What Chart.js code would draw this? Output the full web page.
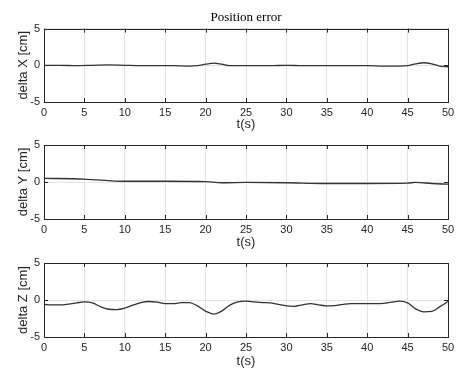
<!DOCTYPE html>
<html>
<head>
<meta charset="utf-8">
<script src="https://cdn.jsdelivr.net/npm/chart.js@4.4.1/dist/chart.umd.min.js"></script>
<style>
  html, body { margin: 0; padding: 0; background: #fff; }
  #wrap { position: relative; width: 459px; height: 369px; }
  .panel { position: absolute; left: 0; width: 459px; }
</style>
</head>
<body>
<div id="wrap">
  <div class="panel" style="top:0;height:132px"><canvas id="chartX"></canvas></div>
  <div class="panel" style="top:130px;height:120px"><canvas id="chartY"></canvas></div>
  <div class="panel" style="top:250px;height:119px"><canvas id="chartZ"></canvas></div>
</div>
<script>
const timeX = [0, 2, 4, 6, 8, 10, 12, 14, 16, 18, 19, 20, 21, 22, 23, 24, 26, 28, 30, 32, 34, 36, 38, 40, 42, 44, 45, 46, 47, 48, 49, 50];
const deltaX = [0, 0, -0.05, 0, 0.05, 0, -0.05, -0.05, -0.05, -0.1, -0.05, 0.15, 0.3, 0.15, -0.05, -0.05, -0.05, -0.05, 0, -0.05, -0.05, -0.05, -0.05, -0.05, -0.1, -0.1, -0.05, 0.2, 0.35, 0.2, -0.1, -0.2];

const timeY = [0, 5, 10, 15, 20, 22, 25, 30, 35, 40, 45, 46, 48, 50];
const deltaY = [0.5, 0.4, 0.1, 0.1, 0.05, -0.1, -0.05, -0.1, -0.2, -0.2, -0.15, -0.05, -0.2, -0.3];

const timeZ = [0, 1, 2, 3, 4, 5, 6, 7, 8, 9, 10, 11, 12, 13, 14, 15, 16, 17, 18, 19, 20, 21, 22, 23, 24, 25,
  26, 27, 28, 29, 30, 31, 32, 33, 34, 35, 36, 37, 38, 39, 40, 41, 42, 43, 44, 45, 46, 47, 48, 49, 50];
const deltaZ = [-0.6, -0.65, -0.65, -0.55, -0.4, -0.25, -0.4, -0.9, -1.25, -1.3, -1.1, -0.7, -0.35, -0.2, -0.3, -0.5,
  -0.5, -0.35, -0.35, -0.8, -1.5, -1.9, -1.5, -0.7, -0.25, -0.15, -0.25, -0.35, -0.4, -0.6, -0.8, -0.85, -0.65,
  -0.5, -0.65, -0.8, -0.75, -0.6, -0.5, -0.5, -0.5, -0.5, -0.45, -0.3, -0.15, -0.4, -1.2, -1.6, -1.55, -0.9, -0.2];

const yTicks = [-5, 0, 5];

// frame around the plot plus short inward tick marks, matlab style
const boxTicks = {
  id: 'boxTicks',
  afterDraw(chart) {
    const { ctx, chartArea: a, scales } = chart;
    ctx.save();
    ctx.strokeStyle = '#262626';
    ctx.lineWidth = 1;
    ctx.beginPath();
    scales.x.ticks.forEach(t => {
      const px = Math.round(scales.x.getPixelForValue(t.value)) + 0.5;
      ctx.moveTo(px, a.top); ctx.lineTo(px, a.top + 4);
      ctx.moveTo(px, a.bottom); ctx.lineTo(px, a.bottom - 4);
    });
    scales.y.ticks.forEach(t => {
      const py = Math.round(scales.y.getPixelForValue(t.value)) + 0.5;
      ctx.moveTo(a.left, py); ctx.lineTo(a.left + 4, py);
      ctx.moveTo(a.right, py); ctx.lineTo(a.right - 4, py);
    });
    ctx.stroke();
    ctx.strokeRect(Math.round(a.left) + 0.5, Math.round(a.top) + 0.5,
      Math.round(a.right - a.left), Math.round(a.bottom - a.top));
    ctx.restore();
  }
};

function makePanel(id, times, values, yLabel, padTop, xHeight, withTitle) {
  const points = times.map((t, i) => ({ x: t, y: values[i] }));
  return new Chart(document.getElementById(id), {
    type: 'line',
    data: {
      datasets: [{
        data: points,
        borderColor: '#333333',
        borderWidth: 1.3,
        pointRadius: 0,
        tension: 0.4,
        cubicInterpolationMode: 'monotone'
      }]
    },
    options: {
      responsive: true,
      maintainAspectRatio: false,
      animation: false,
      layout: { padding: { top: padTop, right: 11, left: 0, bottom: 0 } },
      plugins: {
        legend: { display: false },
        tooltip: { enabled: false },
        title: {
          display: withTitle,
          text: 'Position error',
          fullSize: false,
          color: '#000',
          font: { family: '"Liberation Serif", "Times New Roman", serif', size: 13, weight: 'normal' },
          padding: { top: 10, bottom: 3 }
        }
      },
      scales: {
        x: {
          type: 'linear',
          min: 0,
          max: 50,
          afterFit: s => { s.height = xHeight; },
          ticks: {
            stepSize: 5,
            padding: 4,
            color: '#262626',
            font: { family: '"Liberation Sans", Arial, sans-serif', size: 11 }
          },
          grid: { color: '#e3e3e3', drawTicks: false },
          border: { display: false },
          title: {
            display: true,
            text: 't(s)',
            color: '#262626',
            padding: { top: 0, bottom: 0 },
            font: { family: '"Liberation Sans", Arial, sans-serif', size: 13 }
          }
        },
        y: {
          min: -5,
          max: 5,
          afterFit: s => { s.width = 44; },
          afterBuildTicks: s => { s.ticks = yTicks.map(v => ({ value: v })); },
          ticks: {
            padding: 4,
            color: '#262626',
            font: { family: '"Liberation Sans", Arial, sans-serif', size: 11 }
          },
          grid: { color: '#e3e3e3', drawTicks: false },
          border: { display: false },
          title: {
            display: true,
            text: yLabel,
            color: '#262626',
            padding: { top: 16, bottom: 0 },
            font: { family: '"Liberation Sans", Arial, sans-serif', size: 13 }
          }
        }
      }
    },
    plugins: [boxTicks]
  });
}

makePanel('chartX', timeX, deltaX, 'delta X [cm]', 0, 30, true);
makePanel('chartY', timeY, deltaY, 'delta Y [cm]', 15, 31, false);
makePanel('chartZ', timeZ, deltaZ, 'delta Z [cm]', 13, 32, false);
</script>
</body>
</html>
